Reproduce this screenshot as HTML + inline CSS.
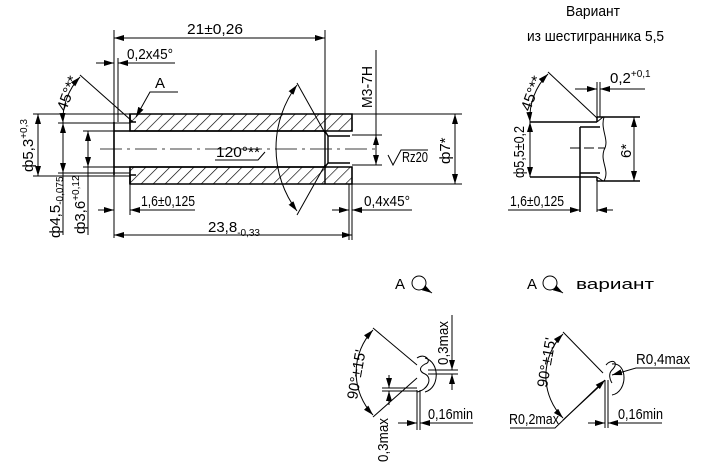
<!DOCTYPE html>
<html><head><meta charset="utf-8"><style>
html,body{margin:0;padding:0;background:#fff;}
svg{display:block;}
text{font-family:"Liberation Sans",sans-serif;font-size:15px;fill:#000;}
</style></head><body>
<svg width="712" height="472" viewBox="0 0 712 472" xmlns="http://www.w3.org/2000/svg">
<defs>
<marker id="a" viewBox="0 0 10 6" refX="10" refY="3" markerWidth="10" markerHeight="6" orient="auto-start-reverse" markerUnits="userSpaceOnUse"><path d="M0,0L10,3L0,6z" fill="#000"/></marker>
<pattern id="h" patternUnits="userSpaceOnUse" width="8.5" height="8.5" patternTransform="rotate(45)"><line x1="0" y1="0" x2="0" y2="8.5" stroke="#000" stroke-width="1.3"/></pattern>
</defs>
<g stroke="#000" stroke-width="1" fill="none">
<path d="M130,114 H352 V131 H130 Z" fill="url(#h)" stroke-width="1.6"/>
<path d="M130,167 H352 V184 H130 Z" fill="url(#h)" stroke-width="1.6"/>
<path d="M130,114 V122 L136,122 M130,184 V175 L136,175" stroke-width="1.6"/>
<path d="M114,122 V175 M114,131 H325 M114,167 H325" stroke-width="1.6"/>
<path d="M325,131 L328,136 H350 M325,167 L328,163 H350 M328,136 V163 M325,114 V184" stroke-width="1.4"/>
<path d="M100,149 H380" stroke-dasharray="22,5,3,5" stroke-width="0.8"/>
<path d="M114,30 V238 M325,30 V114 M352,184 V240"/>
<path d="M114,38 H325" marker-start="url(#a)" marker-end="url(#a)"/>
<path d="M118,58 V122"/>
<path d="M96,63 H114" marker-end="url(#a)"/><path d="M138,63 H118" marker-end="url(#a)"/>
<path d="M118,63 H175"/>
<path d="M178,92 H150 L136,117" marker-end="url(#a)"/>
<path d="M80,75 L133,122"/>
<path d="M80,77 A62,62 0 0 0 63,123" marker-start="url(#a)" marker-end="url(#a)"/>
<path d="M33,114 H130 M33,176 H130 M58,123 H130 M58,173 H130 M83,131 H114 M83,167 H114"/>
<path d="M38,114 V176" marker-start="url(#a)" marker-end="url(#a)"/>
<path d="M63,123 V173" marker-start="url(#a)" marker-end="url(#a)"/>
<path d="M63,173 V235"/>
<path d="M88,131 V167" marker-start="url(#a)" marker-end="url(#a)"/>
<path d="M88,167 V235"/>
<path d="M130,184 V215"/>
<path d="M98,210 H114" marker-end="url(#a)"/><path d="M146,210 H130" marker-end="url(#a)"/>
<path d="M130,210 H195"/>
<path d="M114,235 H352" marker-start="url(#a)" marker-end="url(#a)"/>
<path d="M297,83 L325,133 M297,215 L325,165"/>
<path d="M297,85 A105,105 0 0 0 297,211" marker-start="url(#a)" marker-end="url(#a)"/>
<path d="M215,160 H258 L265,152"/>
<path d="M376,50 V135 M352,135 H382 M352,165 H382"/>
<path d="M376,135 V165" marker-start="url(#a)" marker-end="url(#a)"/>
<path d="M388,155 L393,165 L401,150 H428"/>
<path d="M352,114 H462 M352,184 H462"/>
<path d="M455,114 V184" marker-start="url(#a)" marker-end="url(#a)"/>
<path d="M349,184 V240"/>
<path d="M332,210 H349" marker-end="url(#a)"/><path d="M370,210 H352" marker-end="url(#a)"/>
<path d="M352,210 H412"/>
<path d="M597,117 H640 M597,181 H640 M530,122 H597 M530,177 H597 M580,127 H600 M580,173 H600 M580,127 V212 M597,117 V122 M597,177 V181" stroke-width="1.5"/>
<path d="M597,122 L603,117 M597,177 L603,181"/>
<path d="M604,117 C600,130 610,140 604,150 C600,162 610,170 604,181"/>
<path d="M570,148 H605" stroke-dasharray="10,4"/>
<path d="M600,82 V117 M597,82 V117 M597,181 V212"/>
<path d="M575,89 H597" marker-end="url(#a)"/><path d="M622,89 H600" marker-end="url(#a)"/><path d="M600,89 H645"/>
<path d="M548,72 L597,118"/>
<path d="M548,74 A62,62 0 0 0 530,122" marker-start="url(#a)" marker-end="url(#a)"/>
<path d="M530,122 V177" marker-start="url(#a)" marker-end="url(#a)"/>
<path d="M634,117 V181" marker-start="url(#a)" marker-end="url(#a)"/>
<path d="M508,210 H580" marker-end="url(#a)"/><path d="M613,210 H597" marker-end="url(#a)"/>
<circle cx="419" cy="283" r="7"/><path d="M424,288 L432,293" marker-end="url(#a)"/>
<circle cx="550" cy="283" r="7"/><path d="M555,288 L563,293" marker-end="url(#a)"/>
<path d="M373,328 L417,365 M417,378 L373,417"/>
<path d="M417,358 C425,352 433,362 425,364 C418,368 420,372 425,374 C433,378 428,390 417,392"/>
<path d="M425,358 C440,362 440,388 425,392"/>
<path d="M373,330 A62,62 0 0 0 373,415" marker-start="url(#a)" marker-end="url(#a)"/>
<path d="M417,390 V430 M420,390 V430 M428,370 H458 M428,374 H458 M382,388 H417 M382,391 H417"/>
<path d="M452,315 V370" marker-end="url(#a)"/><path d="M452,390 V374" marker-end="url(#a)"/>
<path d="M389,375 V388" marker-end="url(#a)"/><path d="M389,405 V391" marker-end="url(#a)"/>
<path d="M398,423 H417" marker-end="url(#a)"/><path d="M438,423 H420" marker-end="url(#a)"/><path d="M420,423 H473"/>
<path d="M563,332 L603,373 M603,383 L563,420"/>
<path d="M606,365 C612,358 620,362 612,370 C608,374 610,380 612,383 M612,364 C628,362 628,392 612,395"/>
<path d="M608,380 V428 M605,380 V428"/>
<path d="M563,334 A60,60 0 0 0 563,418" marker-start="url(#a)" marker-end="url(#a)"/>
<path d="M510,428 H555 L605,380" marker-end="url(#a)"/>
<path d="M690,368 H636 L612,375" marker-end="url(#a)"/>
<path d="M588,423 H605" marker-end="url(#a)"/><path d="M625,423 H608" marker-end="url(#a)"/><path d="M608,423 H662"/>
</g>
<g font-size="16">
<text x="187" y="34" textLength="56" lengthAdjust="spacingAndGlyphs">21±0,26</text>
<text x="127" y="59" textLength="46" lengthAdjust="spacingAndGlyphs">0,2x45°</text>
<text x="155" y="88" font-size="20">A</text>
<text transform="translate(66,112) rotate(-70)" textLength="36" lengthAdjust="spacingAndGlyphs">45°**</text>
<text transform="translate(33,172) rotate(-90)">ф5,3<tspan font-size="10" dy="-6">+0,3</tspan></text>
<text transform="translate(60,238) rotate(-90)">ф4,5<tspan font-size="10" dy="3">-0,075</tspan></text>
<text transform="translate(85,234) rotate(-90)">ф3,6<tspan font-size="10" dy="-6">+0,12</tspan></text>
<text x="141" y="206" textLength="54" lengthAdjust="spacingAndGlyphs">1,6±0,125</text>
<text x="208" y="232">23,8<tspan font-size="10" dy="4">-0,33</tspan></text>
<text x="216" y="157" textLength="44" lengthAdjust="spacingAndGlyphs">120°**</text>
<text transform="translate(372,108) rotate(-90)" textLength="42" lengthAdjust="spacingAndGlyphs">M3-7H</text>
<text x="402" y="162" font-size="13" textLength="26" lengthAdjust="spacingAndGlyphs">Rz20</text>
<text transform="translate(450,164) rotate(-90)">ф7*</text>
<text x="364" y="206" textLength="46" lengthAdjust="spacingAndGlyphs">0,4x45°</text>
<text x="566" y="16" textLength="54" lengthAdjust="spacingAndGlyphs">Вариант</text>
<text x="527" y="41" textLength="137" lengthAdjust="spacingAndGlyphs">из шестигранника 5,5</text>
<text x="610" y="83">0,2<tspan font-size="10" dy="-6">+0,1</tspan></text>
<text transform="translate(530,112) rotate(-70)" textLength="36" lengthAdjust="spacingAndGlyphs">45°**</text>
<text transform="translate(524,178) rotate(-90)" textLength="52" lengthAdjust="spacingAndGlyphs">ф5,5±0,2</text>
<text transform="translate(631,158) rotate(-90)">6*</text>
<text x="510" y="206" textLength="54" lengthAdjust="spacingAndGlyphs">1,6±0,125</text>
<text x="395" y="289" font-size="17">A</text>
<text x="527" y="289" font-size="17">A</text>
<text x="576" y="289" font-size="17" textLength="78" lengthAdjust="spacingAndGlyphs">вариант</text>
<text transform="translate(357,400) rotate(-80)" textLength="50" lengthAdjust="spacingAndGlyphs">90°±15'</text>
<text transform="translate(448,365) rotate(-90)" textLength="44" lengthAdjust="spacingAndGlyphs">0,3max</text>
<text transform="translate(388,462) rotate(-90)" textLength="44" lengthAdjust="spacingAndGlyphs">0,3max</text>
<text x="428" y="419" textLength="45" lengthAdjust="spacingAndGlyphs">0,16min</text>
<text transform="translate(547,388) rotate(-80)" textLength="50" lengthAdjust="spacingAndGlyphs">90°±15'</text>
<text x="636" y="364" textLength="54" lengthAdjust="spacingAndGlyphs">R0,4max</text>
<text x="509" y="424" textLength="50" lengthAdjust="spacingAndGlyphs">R0,2max</text>
<text x="618" y="419" textLength="45" lengthAdjust="spacingAndGlyphs">0,16min</text>
</g>
</svg>
</body></html>
